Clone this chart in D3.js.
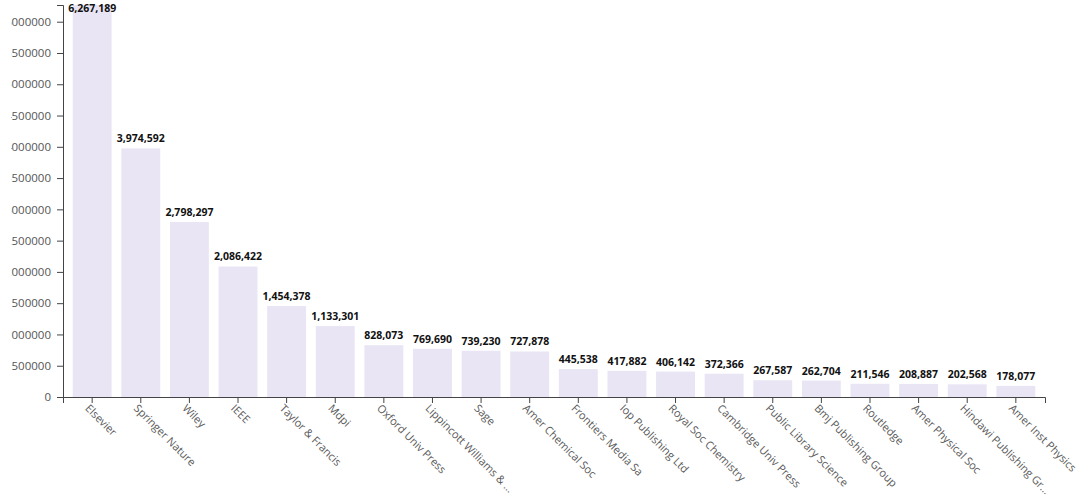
<!DOCTYPE html>
<html>
<head>
<meta charset="utf-8">
<script src="https://cdn.jsdelivr.net/npm/d3@7"></script>
<style>
  html, body { margin: 0; padding: 0; background: #fff; }
  body { width: 1080px; height: 494px; position: relative; overflow: hidden; }
  svg { position: absolute; left: 11px; top: 0; overflow: hidden; font-family: "Open Sans", sans-serif; }
</style>
</head>
<body>
<script>
const publishers = ["Elsevier", "Springer Nature", "Wiley", "IEEE", "Taylor & Francis", "Mdpi",
  "Oxford Univ Press", "Lippincott Williams & ...", "Sage", "Amer Chemical Soc", "Frontiers Media Sa",
  "Iop Publishing Ltd", "Royal Soc Chemistry", "Cambridge Univ Press", "Public Library Science",
  "Bmj Publishing Group", "Routledge", "Amer Physical Soc", "Hindawi Publishing Gr...", "Amer Inst Physics"];
const counts = [6267189, 3974592, 2798297, 2086422, 1454378, 1133301, 828073, 769690, 739230, 727878,
  445538, 417882, 406142, 372366, 267587, 262704, 211546, 208887, 202568, 178077];

const W = 1069, H = 494;
const margin = { left: 52, right: 35, top: 5, bottom: 97 };

const svg = d3.select("body").append("svg").attr("width", W).attr("height", H);

const x = d3.scaleBand().domain(publishers)
  .range([margin.left, W - margin.right]).padding(0.2);
const y = d3.scaleLinear().domain([0, d3.max(counts)])
  .range([H - margin.bottom, margin.top]);

const data = publishers.map((p, i) => ({ p, v: counts[i] }));

svg.append("g").selectAll("rect").data(data).join("rect")
  .attr("x", d => x(d.p))
  .attr("y", d => y(d.v))
  .attr("width", x.bandwidth())
  .attr("height", d => y(0) - y(d.v))
  .attr("fill", "#e9e5f5");

svg.append("g").selectAll("text").data(data).join("text")
  .attr("x", d => x(d.p) + x.bandwidth() / 2)
  .attr("y", d => Math.max(y(d.v) - 6, 12))
  .attr("text-anchor", "middle")
  .attr("font-size", 10.5)
  .attr("font-weight", "bold")
  .attr("fill", "#111")
  .text(d => d3.format(",")(d.v));

const yAxis = svg.append("g")
  .attr("transform", `translate(${margin.left},0)`)
  .call(d3.axisLeft(y).ticks(10).tickPadding(6).tickFormat(d3.format("d")));
yAxis.selectAll("text").attr("font-size", 11.5).attr("fill", "#555").style("font-family", "Open Sans");
yAxis.selectAll("line, path").attr("stroke", "#444");

const xAxis = svg.append("g")
  .attr("transform", `translate(0,${H - margin.bottom})`)
  .call(d3.axisBottom(x).tickSizeOuter(6));
xAxis.selectAll("line, path").attr("stroke", "#444");
xAxis.selectAll("text")
  .attr("font-size", 11)
  .attr("fill", "#5a5a5a")
  .style("font-family", "Open Sans")
  .attr("text-anchor", "start")
  .attr("x", 3).attr("y", 10).attr("dy", "0.35em")
  .attr("transform", "rotate(45)");
</script>
</body>
</html>
